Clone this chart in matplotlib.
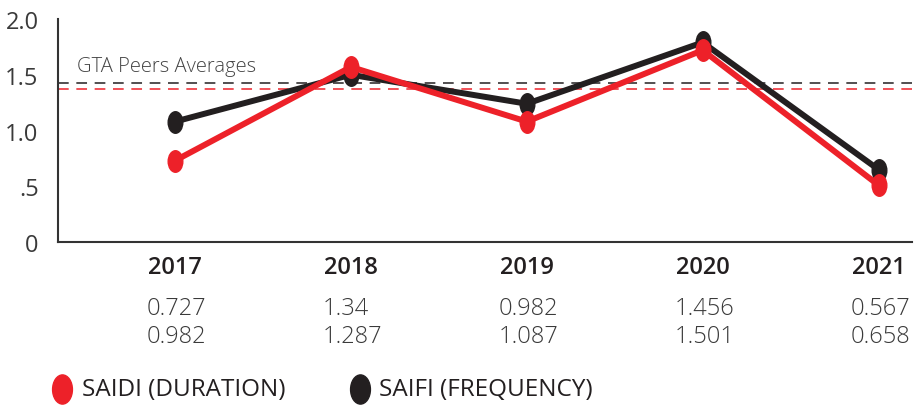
import matplotlib
matplotlib.use('Agg')
import matplotlib.pyplot as plt
import matplotlib.transforms as mtransforms
from matplotlib.lines import Line2D
from matplotlib.path import Path
from matplotlib.markers import MarkerStyle

# values as drawn in the plot
years = ['2017', '2018', '2019', '2020', '2021']
saidi_plot = [0.73, 1.57, 1.08, 1.72, 0.51]
saifi_plot = [1.08, 1.50, 1.24, 1.79, 0.65]

# values printed under the chart
saidi_labels = ['0.727', '1.34', '0.982', '1.456', '0.567']
saifi_labels = ['0.982', '1.287', '1.087', '1.501', '0.658']

# GTA peer averages (dashed lines)
peer_saifi = 1.43
peer_saidi = 1.37

y_ticks = [0, 0.5, 1.0, 1.5, 2.0]
y_tick_labels = ['0', '.5', '1.0', '1.5', '2.0']

RED = '#ED2129'
BLACK = '#231F20'
GREY = '#3a3a3a'

plt.rcParams['font.family'] = ['Open Sans', 'DejaVu Sans']

# tall oval marker
oval = MarkerStyle(Path.unit_circle().transformed(mtransforms.Affine2D().scale(0.68, 1.0)))

fig = plt.figure(figsize=(9.17, 4.06), dpi=100)
ax = fig.add_axes([0.0632, 0.4015, 0.9313, 0.5492])

x = list(range(len(years)))

ax.axhline(peer_saifi, color=BLACK, lw=1.1, ls=(0, (7, 5)), zorder=1)
ax.axhline(peer_saidi, color=RED, lw=1.1, ls=(0, (7, 5)), zorder=1)
ax.text(-0.555, 1.58, 'GTA Peers Averages', fontsize=14.5, color='#444444',
        va='center', ha='left', fontweight='light')

ax.plot(x, saifi_plot, color=BLACK, lw=4.3, marker=oval, ms=15.5, zorder=3)
ax.plot(x, saidi_plot, color=RED, lw=4.3, marker=oval, ms=15.5, zorder=4)

ax.set_xlim(-0.666, 4.19)
ax.set_ylim(0, 2.0)
ax.set_xticks([])
ax.set_yticks(y_ticks)
ax.set_yticklabels(y_tick_labels, fontsize=17, color=GREY)
ax.tick_params(axis='y', length=0, pad=14)
for side in ['top', 'right']:
    ax.spines[side].set_visible(False)
for side in ['left', 'bottom']:
    ax.spines[side].set_color('#333333')
    ax.spines[side].set_linewidth(1.5)

# table of values under the chart
trans = mtransforms.blended_transform_factory(ax.transData, fig.transFigure)
left_shift = trans + mtransforms.ScaledTranslation(-0.28, 0, fig.dpi_scale_trans)
for i, yr in enumerate(years):
    ax.text(i, 1 - 268 / 406, yr, transform=trans, ha='center', va='center',
            fontsize=17, fontweight='semibold', color=BLACK)
    ax.text(i, 1 - 309 / 406, saidi_labels[i], transform=left_shift, ha='left',
            va='center', fontsize=17, fontweight='light', color=GREY)
    ax.text(i, 1 - 337 / 406, saifi_labels[i], transform=left_shift, ha='left',
            va='center', fontsize=17, fontweight='light', color=GREY)

# legend
leg_y = 1 - 390 / 406
fig.add_artist(Line2D([62 / 917], [leg_y], transform=fig.transFigure, marker=oval,
                      ms=21, color=RED, lw=0))
fig.text(82 / 917, leg_y, 'SAIDI (DURATION)', fontsize=17.5, color=BLACK, va='center')
fig.add_artist(Line2D([360 / 917], [leg_y], transform=fig.transFigure, marker=oval,
                      ms=21, color=BLACK, lw=0))
fig.text(379 / 917, leg_y, 'SAIFI (FREQUENCY)', fontsize=17.5, color=BLACK, va='center')

fig.savefig('out.png', dpi=100)
